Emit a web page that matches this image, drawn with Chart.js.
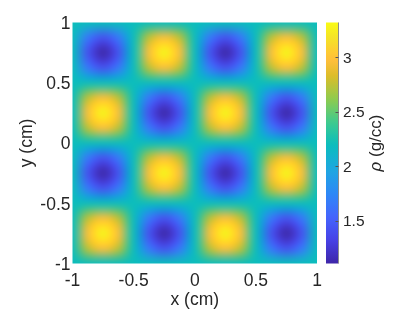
<!DOCTYPE html>
<html>
<head>
<meta charset="utf-8">
<script src="https://cdn.jsdelivr.net/npm/chart.js@4.4.1/dist/chart.umd.min.js"></script>
<style>
  html, body { margin: 0; padding: 0; background: #fff; }
</style>
</head>
<body>
<canvas id="rho" width="415" height="312"></canvas>
<script>
// grid nodes (cm), every 0.125
const xs = [-1, -0.875, -0.75, -0.625, -0.5, -0.375, -0.25, -0.125, 0, 0.125, 0.25, 0.375, 0.5, 0.625, 0.75, 0.875, 1];
const ys = [1, 0.875, 0.75, 0.625, 0.5, 0.375, 0.25, 0.125, 0, -0.125, -0.25, -0.375, -0.5, -0.625, -0.75, -0.875, -1];

// density in g/cc, rows from y = 1 (top) down to y = -1
const rho = [
  [2.2, 2.2, 2.2, 2.2, 2.2, 2.2, 2.2, 2.2, 2.2, 2.2, 2.2, 2.2, 2.2, 2.2, 2.2, 2.2, 2.2],
  [2.2, 1.65, 1.42, 1.65, 2.2, 2.75, 2.98, 2.75, 2.2, 1.65, 1.42, 1.65, 2.2, 2.75, 2.98, 2.75, 2.2],
  [2.2, 1.42, 1.1, 1.42, 2.2, 2.98, 3.3, 2.98, 2.2, 1.42, 1.1, 1.42, 2.2, 2.98, 3.3, 2.98, 2.2],
  [2.2, 1.65, 1.42, 1.65, 2.2, 2.75, 2.98, 2.75, 2.2, 1.65, 1.42, 1.65, 2.2, 2.75, 2.98, 2.75, 2.2],
  [2.2, 2.2, 2.2, 2.2, 2.2, 2.2, 2.2, 2.2, 2.2, 2.2, 2.2, 2.2, 2.2, 2.2, 2.2, 2.2, 2.2],
  [2.2, 2.75, 2.98, 2.75, 2.2, 1.65, 1.42, 1.65, 2.2, 2.75, 2.98, 2.75, 2.2, 1.65, 1.42, 1.65, 2.2],
  [2.2, 2.98, 3.3, 2.98, 2.2, 1.42, 1.1, 1.42, 2.2, 2.98, 3.3, 2.98, 2.2, 1.42, 1.1, 1.42, 2.2],
  [2.2, 2.75, 2.98, 2.75, 2.2, 1.65, 1.42, 1.65, 2.2, 2.75, 2.98, 2.75, 2.2, 1.65, 1.42, 1.65, 2.2],
  [2.2, 2.2, 2.2, 2.2, 2.2, 2.2, 2.2, 2.2, 2.2, 2.2, 2.2, 2.2, 2.2, 2.2, 2.2, 2.2, 2.2],
  [2.2, 1.65, 1.42, 1.65, 2.2, 2.75, 2.98, 2.75, 2.2, 1.65, 1.42, 1.65, 2.2, 2.75, 2.98, 2.75, 2.2],
  [2.2, 1.42, 1.1, 1.42, 2.2, 2.98, 3.3, 2.98, 2.2, 1.42, 1.1, 1.42, 2.2, 2.98, 3.3, 2.98, 2.2],
  [2.2, 1.65, 1.42, 1.65, 2.2, 2.75, 2.98, 2.75, 2.2, 1.65, 1.42, 1.65, 2.2, 2.75, 2.98, 2.75, 2.2],
  [2.2, 2.2, 2.2, 2.2, 2.2, 2.2, 2.2, 2.2, 2.2, 2.2, 2.2, 2.2, 2.2, 2.2, 2.2, 2.2, 2.2],
  [2.2, 2.75, 2.98, 2.75, 2.2, 1.65, 1.42, 1.65, 2.2, 2.75, 2.98, 2.75, 2.2, 1.65, 1.42, 1.65, 2.2],
  [2.2, 2.98, 3.3, 2.98, 2.2, 1.42, 1.1, 1.42, 2.2, 2.98, 3.3, 2.98, 2.2, 1.42, 1.1, 1.42, 2.2],
  [2.2, 2.75, 2.98, 2.75, 2.2, 1.65, 1.42, 1.65, 2.2, 2.75, 2.98, 2.75, 2.2, 1.65, 1.42, 1.65, 2.2],
  [2.2, 2.2, 2.2, 2.2, 2.2, 2.2, 2.2, 2.2, 2.2, 2.2, 2.2, 2.2, 2.2, 2.2, 2.2, 2.2, 2.2]
];

const axisTicks = [-1, -0.5, 0, 0.5, 1];
const cbTicks = [1.5, 2, 2.5, 3];
const cbMin = 1.11;
const cbMax = 3.32;

// parula, a few anchors
const parulaStops = [
  [0.000, [62, 38, 168]],
  [0.095, [71, 65, 229]],
  [0.190, [69, 99, 253]],
  [0.286, [46, 135, 247]],
  [0.381, [32, 165, 227]],
  [0.492, [11, 189, 189]],
  [0.587, [63, 202, 142]],
  [0.683, [143, 203, 78]],
  [0.778, [220, 189, 41]],
  [0.841, [254, 190, 60]],
  [0.873, [254, 201, 52]],
  [0.937, [245, 227, 39]],
  [1.000, [249, 251, 21]]
];

function parula(t) {
  t = Math.max(0, Math.min(1, t));
  for (let i = 1; i < parulaStops.length; i++) {
    const [t1, c1] = parulaStops[i];
    if (t <= t1) {
      const [t0, c0] = parulaStops[i - 1];
      const f = (t - t0) / (t1 - t0);
      return c0.map((c, k) => Math.round(c + (c1[k] - c) * f));
    }
  }
  return parulaStops[parulaStops.length - 1][1];
}

const ink = '#262626';
const fam = "'Liberation Sans', Arial, sans-serif";
Chart.defaults.font.family = fam;
Chart.defaults.color = ink;

const keepTicks = list => scale => { scale.ticks = list.map(v => ({ value: v })); };
const plainLabel = v => String(v);
const noPad = w => s => {
  if (w.width) s.width = w.width;
  if (w.height) s.height = w.height;
  s.paddingTop = 0; s.paddingBottom = 0; s.paddingLeft = 0; s.paddingRight = 0;
};

const fieldPlugin = {
  id: 'field',
  beforeDatasetsDraw(chart) {
    const { ctx, chartArea: a, scales: { x, y, cb } } = chart;
    const n = xs.length, m = ys.length;
    const off = document.createElement('canvas');
    off.width = n; off.height = m;
    const octx = off.getContext('2d');
    const img = octx.createImageData(n, m);
    rho.forEach((row, j) => row.forEach((v, i) => {
      const c = parula((v - cbMin) / (cbMax - cbMin));
      const k = (j * n + i) * 4;
      img.data[k] = c[0]; img.data[k + 1] = c[1]; img.data[k + 2] = c[2]; img.data[k + 3] = 255;
    }));
    octx.putImageData(img, 0, 0);
    const hx = (xs[1] - xs[0]) / 2, hy = (ys[0] - ys[1]) / 2;
    const x0 = x.getPixelForValue(xs[0] - hx), x1 = x.getPixelForValue(xs[n - 1] + hx);
    const y0 = y.getPixelForValue(ys[0] + hy), y1 = y.getPixelForValue(ys[m - 1] - hy);
    ctx.save();
    ctx.beginPath();
    ctx.rect(a.left, a.top, a.right - a.left, a.bottom - a.top);
    ctx.clip();
    ctx.imageSmoothingEnabled = true;
    ctx.imageSmoothingQuality = 'high';
    ctx.drawImage(off, x0, y0, x1 - x0, y1 - y0);
    ctx.restore();

    // colorbar
    const bx = a.right + 9, bw = 12.5;
    const top = cb.getPixelForValue(cbMax), bottom = cb.getPixelForValue(cbMin);
    const g = ctx.createLinearGradient(0, bottom, 0, top);
    for (let s = 0; s <= 64; s++) {
      const c = parula(s / 64);
      g.addColorStop(s / 64, `rgb(${c[0]},${c[1]},${c[2]})`);
    }
    ctx.save();
    ctx.fillStyle = g;
    ctx.fillRect(bx, top, bw, bottom - top);
    ctx.strokeStyle = '#8c8c8c';
    ctx.lineWidth = 1;
    ctx.beginPath();
    ctx.moveTo(bx + bw, top);
    ctx.lineTo(bx + bw, bottom);
    ctx.stroke();
    ctx.strokeStyle = '#555';
    cbTicks.forEach(v => {
      const py = Math.round(cb.getPixelForValue(v)) + 0.5;
      ctx.beginPath();
      ctx.moveTo(bx + bw - 3, py);
      ctx.lineTo(bx + bw, py);
      ctx.stroke();
    });
    ctx.restore();
  },
  afterDraw(chart) {
    const { ctx, chartArea: a } = chart;
    const cx = 376.5, cy = (a.top + a.bottom) / 2;
    ctx.save();
    ctx.translate(cx, cy);
    ctx.rotate(-Math.PI / 2);
    ctx.fillStyle = ink;
    ctx.textBaseline = 'middle';
    ctx.textAlign = 'left';
    const fRho = `italic 17px ${fam}`;
    const fRest = `17px ${fam}`;
    ctx.font = fRho;
    const w1 = ctx.measureText('ρ').width;
    ctx.font = fRest;
    const w2 = ctx.measureText(' (g/cc)').width;
    const sx = -(w1 + w2) / 2;
    ctx.font = fRho;
    ctx.fillText('ρ', sx, 0);
    ctx.font = fRest;
    ctx.fillText(' (g/cc)', sx + w1, 0);
    ctx.restore();
  }
};

new Chart(document.getElementById('rho'), {
  type: 'scatter',
  data: {
    datasets: [{
      label: 'rho',
      data: [],
      pointRadius: 0
    }]
  },
  options: {
    responsive: false,
    animation: false,
    layout: { padding: { top: 22.5, left: 0, right: 0, bottom: 0 } },
    plugins: { legend: { display: false }, tooltip: { enabled: false } },
    scales: {
      x: {
        type: 'linear', position: 'bottom', min: -1, max: 1,
        grid: { display: false, drawTicks: false },
        border: { display: false },
        afterBuildTicks: keepTicks(axisTicks),
        afterFit: noPad({ height: 48.5 }),
        ticks: { font: { size: 17.5 }, padding: 7, maxRotation: 0, callback: plainLabel },
        title: { display: true, text: 'x (cm)', font: { size: 17.5 }, padding: { top: 0, bottom: 1 } }
      },
      y: {
        type: 'linear', position: 'left', min: -1, max: 1,
        grid: { display: false, drawTicks: false },
        border: { display: false },
        afterBuildTicks: keepTicks(axisTicks),
        afterFit: noPad({ width: 72.5 }),
        ticks: { font: { size: 17.5 }, padding: 2, labelOffset: 1.5, callback: plainLabel },
        title: { display: true, text: 'y (cm)', font: { size: 17.5 }, padding: { top: 17, bottom: 0 } }
      },
      cb: {
        type: 'linear', position: 'right', min: cbMin, max: cbMax,
        grid: { display: false, drawTicks: false },
        border: { display: false },
        afterBuildTicks: keepTicks(cbTicks),
        afterFit: noPad({ width: 98 }),
        ticks: { font: { size: 15.5 }, padding: 26, labelOffset: 1, callback: plainLabel }
      }
    }
  },
  plugins: [fieldPlugin]
});
</script>
</body>
</html>
